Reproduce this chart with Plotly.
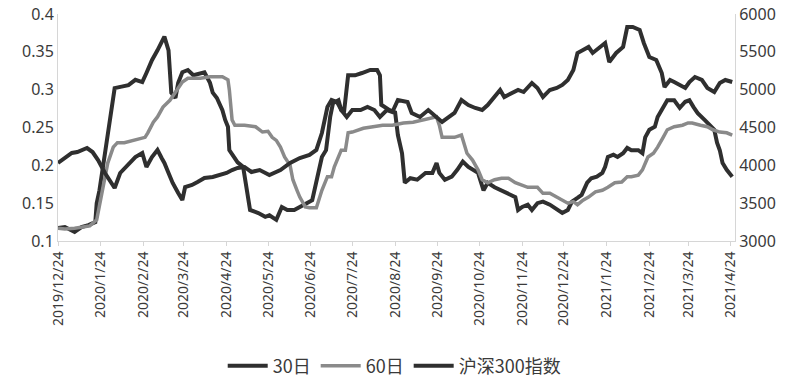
import pandas as pd
import plotly.graph_objects as go

BASE = "2019-12-24"

# 30日 volatility: day offsets from BASE and values
d30 = [0, 5, 12, 17, 22, 27, 28, 30, 34, 38, 41, 46, 51, 56, 61, 64, 68, 72, 75, 77,
       80, 82, 85, 87, 90, 94, 98, 103, 106, 110, 112, 115, 119, 121, 123, 124, 127, 130, 134, 137,
       139, 145, 150, 153, 158, 162, 166, 171, 177, 180, 184, 187, 191, 194, 197, 199, 203, 205, 207, 210,
       215, 220, 226, 231, 233, 234, 240, 244, 246, 249, 251, 255, 260, 266, 271, 274, 276, 280, 285, 289,
       293, 297, 300, 304, 308, 311, 316, 321, 326, 331, 333, 336, 340, 343, 347, 351, 356, 361, 365, 369,
       372, 376, 379, 383, 386, 390, 394, 396, 398, 402, 405, 409, 412, 415, 420, 423, 425, 428, 432, 434,
       438, 441, 446, 450, 454, 457, 460, 463, 468, 473, 475, 477, 479, 481, 484, 488]
v30 = [0.117, 0.1185, 0.112, 0.1185, 0.121, 0.125, 0.150, 0.167, 0.216, 0.264, 0.302, 0.304, 0.306, 0.313, 0.310, 0.322, 0.339, 0.352, 0.362, 0.370,
       0.352, 0.296, 0.289, 0.309, 0.323, 0.326, 0.319, 0.322, 0.323, 0.309, 0.296, 0.289, 0.273, 0.260, 0.251, 0.220, 0.211, 0.204, 0.198, 0.167,
       0.141, 0.137, 0.132, 0.134, 0.128, 0.145, 0.141, 0.141, 0.148, 0.150, 0.154, 0.177, 0.211, 0.220, 0.264, 0.282, 0.286, 0.273, 0.270, 0.319,
       0.319, 0.322, 0.326, 0.326, 0.319, 0.280, 0.273, 0.270, 0.240, 0.216, 0.177, 0.183, 0.181, 0.190, 0.190, 0.203, 0.190, 0.181, 0.185, 0.194,
       0.205, 0.198, 0.194, 0.190, 0.167, 0.177, 0.171, 0.167, 0.163, 0.158, 0.141, 0.145, 0.148, 0.141, 0.150, 0.152, 0.148, 0.141, 0.137, 0.141,
       0.152, 0.157, 0.161, 0.177, 0.183, 0.185, 0.190, 0.198, 0.211, 0.214, 0.211, 0.216, 0.223, 0.220, 0.220, 0.216, 0.237, 0.247, 0.251, 0.264,
       0.277, 0.286, 0.286, 0.276, 0.284, 0.286, 0.277, 0.269, 0.260, 0.251, 0.247, 0.230, 0.220, 0.203, 0.194, 0.185]

# 60日 volatility
d60 = [0, 5, 12, 17, 23, 28, 32, 36, 40, 43, 48, 54, 59, 63, 65, 69, 72, 76, 81, 85,
       90, 94, 103, 110, 119, 123, 124, 126, 128, 135, 143, 148, 152, 155, 158, 161, 164, 168, 170, 173,
       175, 179, 182, 187, 191, 195, 198, 200, 203, 205, 208, 210, 213, 221, 228, 235, 242, 250, 257, 264,
       271, 274, 276, 278, 287, 292, 296, 300, 304, 307, 311, 316, 321, 326, 331, 336, 340, 347, 351, 356,
       361, 365, 369, 373, 376, 380, 384, 389, 394, 398, 403, 408, 412, 415, 420, 423, 427, 431, 434, 438,
       441, 446, 452, 456, 459, 465, 470, 474, 479, 484, 488]
v60 = [0.117, 0.116, 0.117, 0.1185, 0.120, 0.128, 0.167, 0.203, 0.224, 0.230, 0.230, 0.233, 0.236, 0.237, 0.243, 0.257, 0.264, 0.277, 0.286, 0.296,
       0.310, 0.315, 0.315, 0.317, 0.317, 0.313, 0.300, 0.260, 0.253, 0.253, 0.251, 0.244, 0.245, 0.237, 0.233, 0.224, 0.211, 0.200, 0.181, 0.167,
       0.158, 0.145, 0.144, 0.144, 0.167, 0.185, 0.185, 0.198, 0.211, 0.220, 0.220, 0.243, 0.244, 0.249, 0.251, 0.253, 0.253, 0.256, 0.257, 0.260,
       0.263, 0.264, 0.253, 0.237, 0.237, 0.240, 0.216, 0.207, 0.194, 0.181, 0.177, 0.181, 0.183, 0.183, 0.177, 0.174, 0.171, 0.171, 0.163, 0.163,
       0.158, 0.154, 0.150, 0.152, 0.148, 0.154, 0.158, 0.165, 0.167, 0.171, 0.177, 0.178, 0.185, 0.185, 0.187, 0.194, 0.211, 0.216, 0.224, 0.237,
       0.247, 0.251, 0.253, 0.256, 0.256, 0.253, 0.251, 0.247, 0.244, 0.243, 0.240]

# 沪深300指数
dIdx = [0, 5, 10, 14, 21, 25, 29, 34, 39, 41, 45, 50, 56, 61, 64, 68, 72, 75, 77, 80,
        83, 87, 90, 92, 97, 101, 106, 112, 117, 122, 126, 130, 135, 140, 146, 153, 161, 168, 175, 182,
        187, 191, 195, 198, 202, 205, 209, 213, 219, 224, 229, 233, 238, 242, 246, 253, 256, 262, 268, 274,
        278, 282, 287, 292, 297, 302, 307, 311, 316, 320, 323, 329, 333, 337, 343, 347, 351, 356, 361, 365,
        369, 373, 376, 380, 384, 387, 392, 396, 399, 404, 409, 412, 416, 421, 424, 428, 433, 437, 439, 443,
        446, 450, 454, 457, 461, 466, 470, 475, 479, 483, 488]
vIdx = [4031, 4097, 4163, 4176, 4229, 4176, 4070, 3899, 3767, 3700, 3899, 4004, 4110, 4163, 3978, 4110, 4203, 4097, 4031, 3899,
        3767, 3634, 3542, 3714, 3740, 3780, 3833, 3846, 3872, 3899, 3938, 3965, 3978, 3912, 3938, 3872, 3938, 4031, 4097, 4137,
        4203, 4427, 4771, 4863, 4837, 4731, 4639, 4731, 4731, 4771, 4731, 4639, 4731, 4705, 4863, 4837, 4692, 4639, 4731, 4639,
        4573, 4626, 4692, 4863, 4797, 4758, 4731, 4797, 4903, 4996, 4903, 4956, 4996, 4969, 5088, 5022, 4903, 4996, 5022, 5062,
        5128, 5260, 5485, 5524, 5564, 5485, 5551, 5617, 5366, 5485, 5564, 5828, 5828, 5789, 5617, 5432, 5392, 5220, 5035, 5128,
        5101, 5062, 5022, 5101, 5167, 5128, 5022, 4969, 5088, 5128, 5101]

tick_dates = ["2019-12-24", "2020-01-24", "2020-02-24", "2020-03-24", "2020-04-24", "2020-05-24",
              "2020-06-24", "2020-07-24", "2020-08-24", "2020-09-24", "2020-10-24", "2020-11-24",
              "2020-12-24", "2021-01-24", "2021-02-24", "2021-03-24", "2021-04-24"]
tick_text = ["2019/12/24", "2020/1/24", "2020/2/24", "2020/3/24", "2020/4/24", "2020/5/24",
             "2020/6/24", "2020/7/24", "2020/8/24", "2020/9/24", "2020/10/24", "2020/11/24",
             "2020/12/24", "2021/1/24", "2021/2/24", "2021/3/24", "2021/4/24"]

base = pd.Timestamp(BASE)
def to_dates(days):
    return [base + pd.Timedelta(days=d) for d in days]

DARK = "#2f2f2f"
GRAY = "#8a8a8a"
AXIS = "#d6d6d6"
TXT = "#3a3a3a"

fig = go.Figure()
fig.add_trace(go.Scatter(x=to_dates(d30), y=v30, name="30日", mode="lines",
                         line=dict(color=DARK, width=4)))
fig.add_trace(go.Scatter(x=to_dates(d60), y=v60, name="60日", mode="lines",
                         line=dict(color=GRAY, width=3.5)))
fig.add_trace(go.Scatter(x=to_dates(dIdx), y=vIdx, name="沪深300指数", mode="lines",
                         line=dict(color=DARK, width=4), yaxis="y2"))

fig.update_layout(
    width=798, height=382,
    margin=dict(l=58, r=63, t=14, b=141, autoexpand=False),
    paper_bgcolor="white", plot_bgcolor="white",
    font=dict(family="Noto Sans, Noto Sans CJK SC", color=TXT),
    showlegend=True,
    legend=dict(orientation="h", xref="container", yref="container",
                x=0.494, y=0.042, xanchor="center", yanchor="middle",
                font=dict(family="Noto Sans CJK SC", size=18, color=TXT),
                itemwidth=40, tracegroupgap=0),
    xaxis=dict(type="date", range=[base, base + pd.Timedelta(days=490)],
               tickmode="array", tickvals=tick_dates, ticktext=tick_text,
               tickangle=-90, tickfont=dict(size=14, color=TXT),
               showline=True, linecolor=AXIS, linewidth=1,
               ticks="outside", ticklen=4, tickcolor=AXIS,
               showgrid=False, zeroline=False, automargin=False),
    yaxis=dict(range=[0.1, 0.4], dtick=0.05, tick0=0.1,
               tickfont=dict(size=16, color=TXT), ticklabeloverflow="allow",
               showline=True, linecolor=AXIS, linewidth=1,
               showgrid=False, zeroline=False, ticks="", automargin=False),
    yaxis2=dict(range=[3000, 6000], dtick=500, tick0=3000, overlaying="y", side="right",
                tickfont=dict(size=16, color=TXT), ticklabeloverflow="allow",
                showline=True, linecolor=AXIS, linewidth=1,
                showgrid=False, zeroline=False, ticks="", automargin=False),
)

# remove the browser's default 8px body margin so the figure sits at the page origin
fig.write_html("out.html", config={"displayModeBar": False},
               post_script="document.body.style.margin='0px';")
